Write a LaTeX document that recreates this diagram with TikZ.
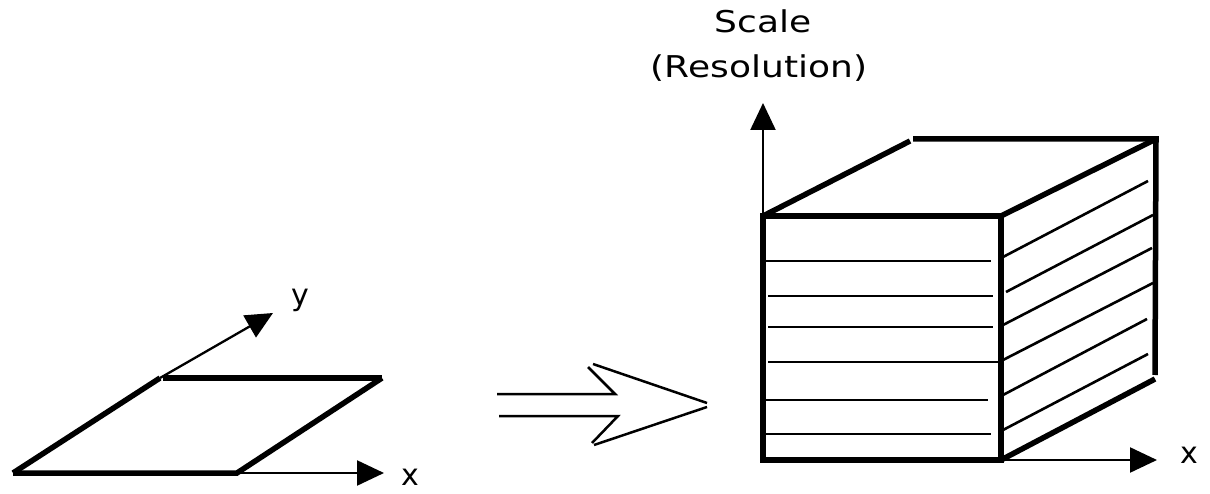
\documentclass[tikz,border=0pt]{standalone}
\usepackage{fontspec}
\setmainfont{DejaVu Sans}
\newfontfamily\titlefont[FakeStretch=1.2]{DejaVu Sans}
\usetikzlibrary{arrows.meta}
\begin{document}
\begin{tikzpicture}[x={(1pt,0pt)},y={(0pt,-1pt)},
  boldline/.style={line width=5.5pt},
  thinline/.style={line width=2.6pt},
  axisline/.style={line width=2.3pt,-{Triangle[length=27pt,width=25pt]}},
  hollow/.style={line width=2.5pt},
  lbl/.style={font=\fontsize{30}{36}\selectfont,inner sep=0pt}]
\useasboundingbox (0,0) rectangle (1210,494);

% the plane
\coordinate (pA) at (13,473);
\coordinate (pB) at (237,473);
\coordinate (pC) at (382,378);
\coordinate (pD) at (160,378);
\coordinate (pX) at (384,473);
\coordinate (pY) at (273,313);
\draw[boldline] (pA)--(pB)--(pC);
\draw[boldline] (pA)--(pD);
\draw[boldline] (163,378)--(pC);
\draw[axisline] (pB)--(pX);
\draw[axisline] (pD)--(pY);
\node[lbl] (ly) at (300,300) {y};
\node[lbl] (lx) at (410,477) {x};

% the big hollow arrow
\draw[hollow] (497,394)--(615,394)--(588,367);
\draw[hollow] (593,364)--(707,403);
\draw[hollow] (499,416)--(618,416)--(592,443);
\draw[hollow] (594,445)--(707,407);

% the cube
\coordinate (f1) at (763,460);
\coordinate (f2) at (1001,460);
\coordinate (f3) at (1001,216);
\coordinate (f4) at (763,216);
\coordinate (b2) at (1155,379);
\coordinate (b3) at (1156,139);
\coordinate (b4) at (910,141);
\coordinate (cz) at (763,103);
\coordinate (cx) at (1157,460);
\draw[boldline] (f1)--(f2)--(f3)--(f4)--cycle;
\draw[boldline] (f4)--(b4);
\draw[boldline] (913,139)--(b3)--(1155,375);
\draw[boldline] (f3)--(b3);
\draw[boldline] (f2)--(b2);
\draw[axisline] (f4)--(cz);
\draw[axisline] (f2)--(cx);

% front hatching
\draw[thinline] (766,261)--(991,261);
\draw[thinline] (768,296)--(993,296);
\draw[thinline] (768,327)--(993,327);
\draw[thinline] (768,362)--(1000,362);
\draw[thinline] (766,400)--(988,400);
\draw[thinline] (766,434)--(991,434);

% side hatching
\draw[thinline] (1003,257)--(1148,181);
\draw[thinline] (1006,292)--(1153,215);
\draw[thinline] (1003,325)--(1152,248);
\draw[thinline] (1003,360)--(1153,283);
\draw[thinline] (1003,395)--(1147,319);
\draw[thinline] (1003,430)--(1148,354);

\node[lbl,anchor=base] (lz) at (763,33) {\titlefont Scale};
\node[lbl,anchor=base] (lres) at (759,78) {\titlefont (Resolution)};
\node[lbl] (lx2) at (1189,455) {x};
\end{tikzpicture}
\end{document}
